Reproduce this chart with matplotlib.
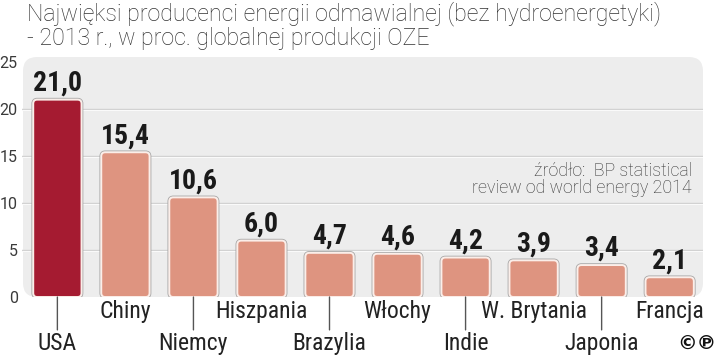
import matplotlib
matplotlib.use("Agg")
import matplotlib.pyplot as plt
import matplotlib.transforms as mtransforms
from matplotlib.patches import FancyBboxPatch
from matplotlib import font_manager

# dane: udział w globalnej produkcji OZE (bez hydro), 2013, w proc.
countries = ["USA", "Chiny", "Niemcy", "Hiszpania", "Brazylia",
             "Włochy", "Indie", "W. Brytania", "Japonia", "Francja"]
shares = [21.0, 15.4, 10.6, 6.0, 4.7, 4.6, 4.2, 3.9, 3.4, 2.1]
value_labels = ["21,0", "15,4", "10,6", "6,0", "4,7", "4,6", "4,2", "3,9", "3,4", "2,1"]
y_ticks = [0, 5, 10, 15, 20, 25]

title = ("Najwięksi producenci energii odmawialnej (bez hydroenergetyki)\n"
         "- 2013 r., w proc. globalnej produkcji OZE")
source = "źródło:  BP statistical\nreview od world energy 2014"

installed = {f.name for f in font_manager.fontManager.ttflist}
cond_dejavu = any(f.name == "DejaVu Sans" and f.stretch == "condensed"
                  for f in font_manager.fontManager.ttflist)
if "Roboto Condensed" in installed:
    narrow, stretch = "Roboto Condensed", "normal"
elif cond_dejavu:
    narrow, stretch = "DejaVu Sans", "condensed"
else:
    narrow, stretch = "Roboto", "normal"
light = "Roboto" if "Roboto" in installed else "DejaVu Sans"

W, H = 720, 356
fig = plt.figure(figsize=(W / 100, H / 100), dpi=100)
fig.patch.set_facecolor("white")

ax = fig.add_axes([22 / W, 59 / H, 681 / W, 239 / H])
ax.set_facecolor("none")
ax.set_xlim(-0.52, 9.49)
ax.set_ylim(0, 25.43)

# szare tło z zaokrąglonymi rogami
panel = FancyBboxPatch((0.23, 0.59), 6.80, 2.40,
                       boxstyle="round,pad=0,rounding_size=0.14",
                       transform=fig.dpi_scale_trans, clip_on=False,
                       facecolor="#ededed", edgecolor="none", zorder=0)
ax.add_patch(panel)

for s in ax.spines.values():
    s.set_visible(False)
ax.set_xticks([])
ax.set_yticks(y_ticks)
ax.tick_params(axis="y", length=0, pad=3)
for lab in ax.get_yticklabels():
    lab.set_fontfamily(light)
    lab.set_fontsize(11.5)
    lab.set_color("#3a3a3a")

# linie siatki + jasny refleks pod spodem
below = mtransforms.offset_copy(ax.get_yaxis_transform(), fig=fig, x=0, y=-1.0, units="points")
for t in y_ticks[1:-1]:
    ax.axhline(t, color="#d0d0d0", lw=1.0, zorder=1)
    ax.plot([0, 1], [t, t], color="#fafafa", lw=0.8, transform=below, zorder=1)

colors = ["#a51b31"] + ["#de9480"] * (len(shares) - 1)
bars = ax.bar(range(len(shares)), shares, width=0.71, color=colors)
# zamiana prostokątów na zaokrąglone
px_x = 681 / (9.49 + 0.52)
px_y = 239 / 25.43
for b, c in zip(bars, colors):
    b.set_visible(False)
    for ec, lw, z in [("#a8a8a8", 2.6, 2), ("#fbeee9", 1.4, 3)]:
        rp = FancyBboxPatch((b.get_x(), 0), b.get_width(), b.get_height(),
                            boxstyle="round,pad=0,rounding_size=%f" % (4 / px_x),
                            mutation_aspect=px_x / px_y,
                            facecolor=c, edgecolor=ec, lw=lw, zorder=z)
        ax.add_patch(rp)

for i, (v, txt) in enumerate(zip(shares, value_labels)):
    ax.annotate(txt, xy=(i, v), xytext=(0, 6.5), textcoords="offset points",
                ha="center", va="baseline", fontsize=20, fontweight="bold",
                family=narrow, fontstretch=stretch, color="#1a1a1a", zorder=4)

for i, name in enumerate(countries):
    if i % 2 == 0:
        ax.annotate("", xy=(i, 0), xytext=(i, -3.5),
                    arrowprops=dict(arrowstyle="-", color="#555555", lw=1.0,
                                    shrinkA=0, shrinkB=0), annotation_clip=False)
        off = -53 * 0.72
    else:
        off = -21 * 0.72
    ax.annotate(name, xy=(i, 0), xytext=(0, off), textcoords="offset points",
                ha="center", va="baseline", fontsize=17, family=narrow,
                fontstretch=stretch, color="#222222", annotation_clip=False)

fig.text(27 / W, 1 - 1 / H, title, ha="left", va="top", fontsize=16.7,
         family=light, fontweight="light", color="#333333", linespacing=1.1)
fig.text(692 / W, 1 - 162 / H, source, ha="right", va="top", fontsize=12.8,
         family=light, fontweight="light", color="#333333", linespacing=0.95)
fig.text(716 / W, 1 - 343 / H, "©℗", ha="right", va="center", fontsize=14,
         fontweight="bold", family="DejaVu Sans", color="#111111")

fig.savefig("out.png", dpi=100)
